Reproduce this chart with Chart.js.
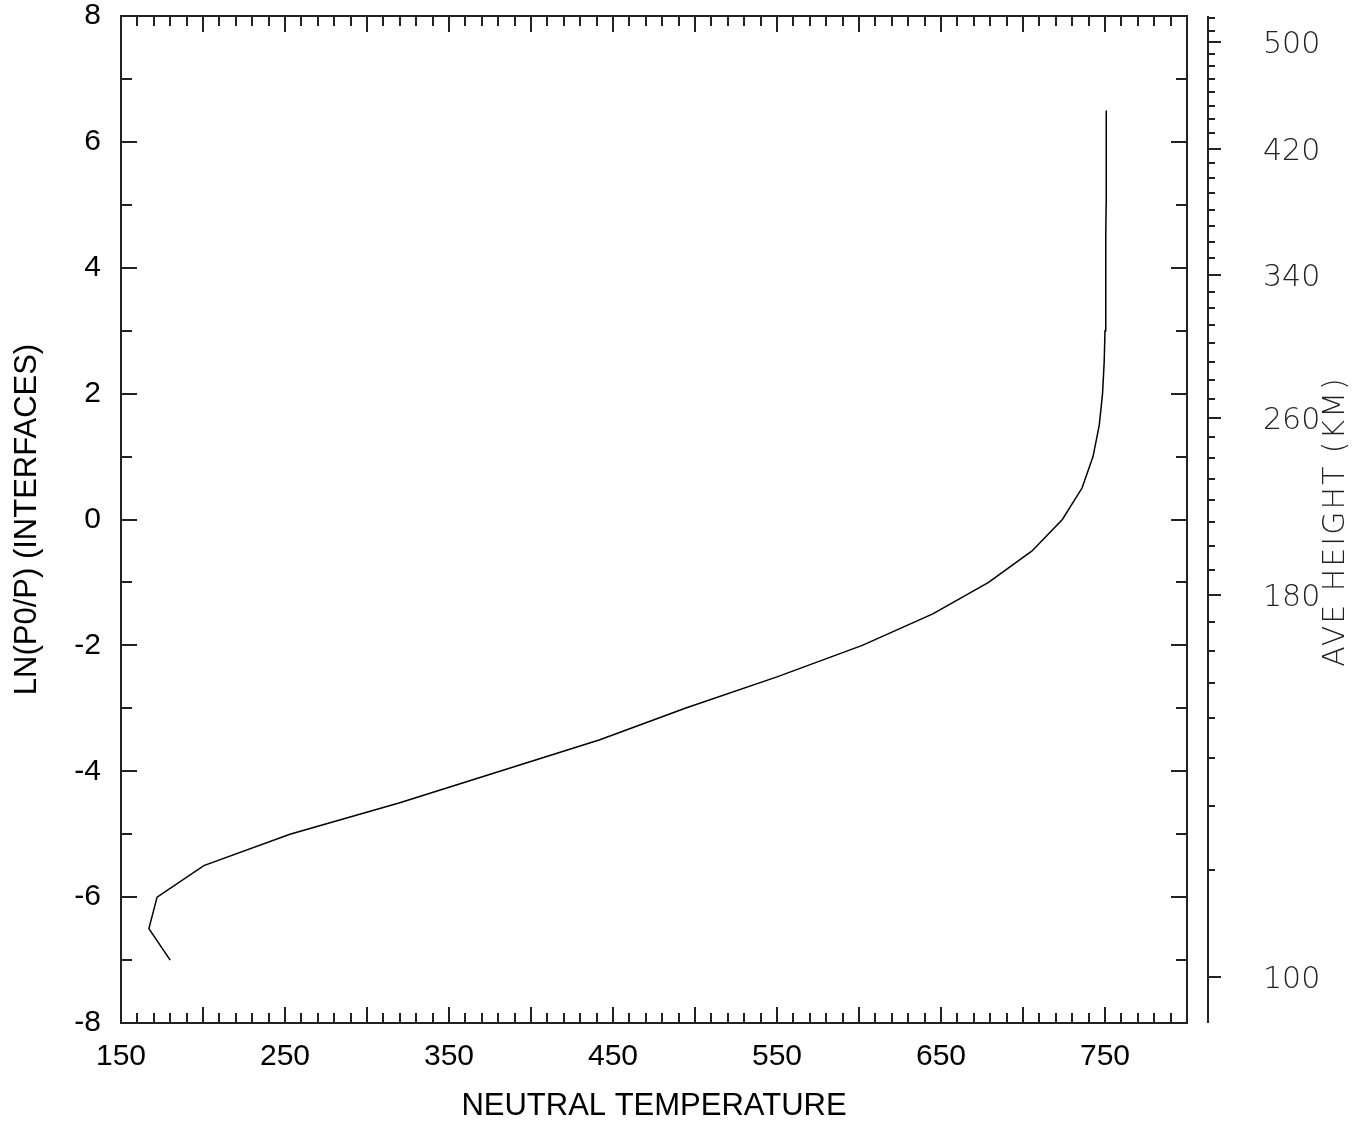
<!DOCTYPE html>
<html>
<head>
<meta charset="utf-8">
<script src="https://cdn.jsdelivr.net/npm/chart.js@4.4.1/dist/chart.umd.min.js"></script>
<style>
html, body { margin: 0; padding: 0; background: #fff; }
</style>
</head>
<body>
<canvas id="myChart" width="1369" height="1125"></canvas>
<script>
// interface levels ln(p0/p) and neutral temperature
const lnLevels = [-7, -6.5, -6, -5.5, -5, -4.5, -4, -3.5, -3, -2.5, -2, -1.5, -1, -0.5,
    0, 0.5, 1, 1.5, 2, 2.5, 3, 3.5, 4, 4.5, 5, 5.5, 6, 6.5];
const neutralTemp = [180, 167, 172, 200.5, 253, 320, 381, 442, 494, 550, 602, 645, 679, 705.5,
    724, 736, 742.7, 746.5, 748.5, 749.5, 750, 750.3, 750.5, 750.6, 750.7, 750.7, 750.8, 750.8];

const xLabels = [150, 250, 350, 450, 550, 650, 750];

// average height axis (km) and where each tick falls on the ln(p0/p) scale
const heightTicks = [100, 110, 120, 130, 140, 150, 160, 170, 180, 190, 200, 210, 220, 230, 240,
    250, 260, 270, 280, 290, 300, 310, 320, 330, 340, 350, 360, 370, 380, 390, 400, 410, 420,
    430, 440, 450, 460, 470, 480, 490, 500, 510, 520];
const heightTickLn = [-7.27, -5.57, -4.55, -3.79, -3.15, -2.60, -2.09, -1.63, -1.20, -0.80, -0.42,
    -0.04, 0.31, 0.64, 0.98, 1.31, 1.61, 1.91, 2.22, 2.50, 2.80, 3.09, 3.36, 3.61, 3.88, 4.16,
    4.41, 4.66, 4.92, 5.19, 5.43, 5.66, 5.89, 6.14, 6.36, 6.57, 6.79, 7.00, 7.21, 7.40, 7.59,
    7.76, 7.97];
const heightLabels = [100, 180, 260, 340, 420, 500];

const thinFont = '"DejaVu Sans ExtraLight", "DejaVu Sans", sans-serif';
const mainFont = 'Liberation Sans, Arial, sans-serif';

// keep the chart area where the reference has it
function noPad(scale) {
    scale.paddingTop = 0;
    scale.paddingBottom = 0;
    scale.paddingLeft = 0;
    scale.paddingRight = 0;
}

// frame with inward ticks on all four sides + the separate height axis
const frameTicksPlugin = {
    id: 'frameTicks',
    afterDraw(chart) {
        const ctx = chart.ctx;
        const a = chart.chartArea;
        const xs = chart.scales.x, ys = chart.scales.y, hs = chart.scales.y2;
        ctx.save();
        ctx.strokeStyle = '#222';
        ctx.lineWidth = 2;
        ctx.strokeRect(a.left, a.top, a.right - a.left, a.bottom - a.top);

        ctx.beginPath();
        xs.ticks.forEach(t => {
            const px = Math.round(xs.getPixelForValue(t.value));
            const len = t.value % 50 === 0 ? 16 : 10;
            ctx.moveTo(px, a.bottom); ctx.lineTo(px, a.bottom - len);
            ctx.moveTo(px, a.top); ctx.lineTo(px, a.top + len);
        });
        ys.ticks.forEach(t => {
            const py = Math.round(ys.getPixelForValue(t.value));
            const len = t.value % 2 === 0 ? 16 : 11;
            ctx.moveTo(a.left, py); ctx.lineTo(a.left + len, py);
            ctx.moveTo(a.right, py); ctx.lineTo(a.right - len, py);
        });
        ctx.stroke();

        // height axis
        const ax = a.right + 21;
        ctx.beginPath();
        ctx.moveTo(ax, a.top); ctx.lineTo(ax, a.bottom);
        hs.ticks.forEach((t, i) => {
            const py = Math.round(hs.getPixelForValue(t.value));
            const len = heightLabels.includes(heightTicks[i]) ? 13 : 7;
            ctx.moveTo(ax, py); ctx.lineTo(ax + len, py);
        });
        ctx.stroke();

        // right axis title, reads bottom to top
        ctx.translate(1336, (a.top + a.bottom) / 2 + 2);
        ctx.rotate(-Math.PI / 2);
        ctx.fillStyle = '#222';
        ctx.font = '200 30px ' + thinFont;
        ctx.letterSpacing = '2px';
        ctx.textAlign = 'center';
        ctx.textBaseline = 'middle';
        ctx.fillText('AVE HEIGHT (KM)', 0, 0);
        ctx.restore();
    }
};

const data = {
    datasets: [{
        label: 'NEUTRAL TEMPERATURE',
        data: lnLevels.map((v, i) => ({x: neutralTemp[i], y: v})),
        showLine: true,
        borderColor: '#000',
        borderWidth: 1.5,
        pointRadius: 0,
        tension: 0,
        yAxisID: 'y'
    }]
};

const config = {
    type: 'scatter',
    data: data,
    options: {
        responsive: false,
        animation: false,
        layout: { padding: { top: 16, left: 0, right: 0, bottom: 0 } },
        scales: {
            x: {
                type: 'linear',
                position: 'bottom',
                min: 150,
                max: 800,
                afterBuildTicks: scale => {
                    const ticks = [];
                    for (let v = 150; v <= 800; v += 10) ticks.push({value: v});
                    scale.ticks = ticks;
                },
                afterFit: scale => { scale.height = 102; noPad(scale); },
                ticks: {
                    autoSkip: false,
                    maxRotation: 0,
                    padding: 16,
                    color: '#000',
                    font: { family: mainFont, size: 30 },
                    callback: value => xLabels.includes(value) ? String(value) : ''
                },
                grid: { display: false, drawTicks: false },
                border: { display: false },
                title: {
                    display: true,
                    text: 'NEUTRAL TEMPERATURE',
                    color: '#000',
                    font: { family: mainFont, size: 31 },
                    padding: { top: 1, bottom: 0 }
                }
            },
            y: {
                type: 'linear',
                position: 'left',
                min: -8,
                max: 8,
                afterBuildTicks: scale => {
                    const ticks = [];
                    for (let v = -8; v <= 8; v += 1) ticks.push({value: v});
                    scale.ticks = ticks;
                },
                afterFit: scale => { scale.width = 121; noPad(scale); },
                ticks: {
                    autoSkip: false,
                    padding: 20,
                    color: '#000',
                    font: { family: mainFont, size: 30 },
                    callback: value => value % 2 === 0 ? String(value) : ''
                },
                grid: { display: false, drawTicks: false },
                border: { display: false },
                title: {
                    display: true,
                    text: 'LN(P0/P) (INTERFACES)',
                    color: '#000',
                    font: { family: mainFont, size: 31 },
                    padding: { top: 9, bottom: 0 }
                }
            },
            y2: {
                type: 'linear',
                position: 'right',
                min: -8,
                max: 8,
                afterBuildTicks: scale => {
                    scale.ticks = heightTickLn.map(v => ({value: v}));
                },
                afterFit: scale => { scale.width = 182; noPad(scale); },
                ticks: {
                    autoSkip: false,
                    padding: 76,
                    labelOffset: 3,
                    color: '#222',
                    font: { family: thinFont, size: 30, weight: 200 },
                    callback: (value, index) =>
                        heightLabels.includes(heightTicks[index]) ? String(heightTicks[index]) : ''
                },
                grid: { display: false, drawTicks: false },
                border: { display: false }
            }
        },
        plugins: {
            legend: { display: false },
            tooltip: { enabled: false }
        }
    },
    plugins: [frameTicksPlugin]
};

const myChart = document.getElementById('myChart');
const chart = new Chart(myChart, config);
</script>
</body>
</html>
